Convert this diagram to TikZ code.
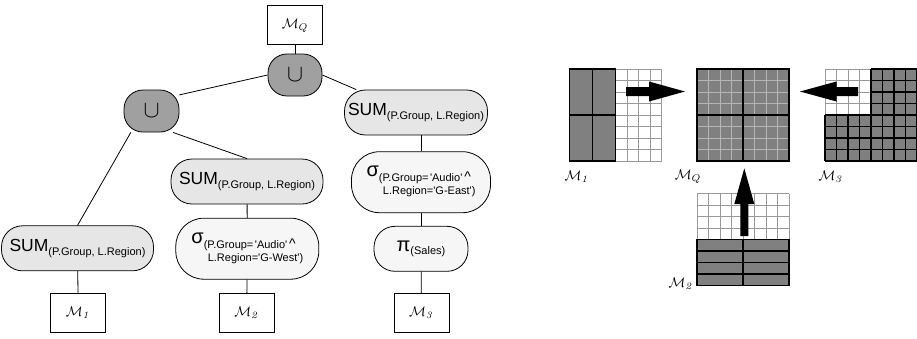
\documentclass[tikz,border=0pt]{standalone}
\usepackage[no-math]{fontspec}
\usepackage{graphicx}
\newfontfamily\arial{Liberation Sans}
\usetikzlibrary{calc}
\definecolor{uniongray}{HTML}{A0A0A0}
\definecolor{sumgray}{HTML}{E6E6E6}
\definecolor{selgray}{HTML}{F6F6F6}
\definecolor{celldark}{HTML}{808080}
\definecolor{cellline}{HTML}{999999}
\definecolor{cellfaint}{HTML}{B4B4B4}
\newcommand{\opbig}[1]{{\fontsize{17.5}{20}\selectfont #1}}
\newcommand{\opgreek}[1]{{\fontsize{20}{20}\selectfont #1}}
\newcommand{\opsub}[1]{{\fontsize{11}{13}\selectfont #1}}
\newcommand{\sumtext}{\opbig{SUM}\raisebox{-3.5pt}{\opsub{(P.Group, L.Region)}}}
\newcommand{\seltext}[1]{\opgreek{σ}\raisebox{-5pt}{\opsub{\begin{tabular}[t]{@{}l@{}}(P.Group=\hspace{1.5pt}'Audio'\hspace{2pt}{\fontsize{14}{13}\selectfont\textasciicircum}\\\hspace{4pt}L.Region='#1')\end{tabular}}}}
\newcommand{\mlab}[1]{\scalebox{1.4}{$\mathcal{M}_{#1}$}}
\newcommand{\unionsym}{\scalebox{2.4}{$\cup$}}
\begin{document}
\begin{tikzpicture}[x=1pt,y=-1pt,
  mbox/.style={draw, line width=0.8pt, fill=white, minimum width=55pt, minimum height=39pt, inner sep=0pt},
  opnode/.style={draw, line width=0.8pt, inner sep=0pt, font=\arial},
  unionnode/.style={opnode, fill=uniongray, rounded corners=19pt, minimum width=54pt, minimum height=42pt},
  sumnode/.style={opnode, fill=sumgray, rounded corners=21pt, minimum width=152pt, minimum height=45pt},
  selnode/.style={opnode, fill=selgray, rounded corners=28pt, minimum width=143pt, minimum height=61pt},
  projnode/.style={opnode, fill=selgray, rounded corners=21pt, minimum width=94pt, minimum height=45pt},
  edge/.style={line width=0.8pt},
  glabel/.style={inner sep=0pt},
  blockarrow/.style={fill=black},
  thinline/.style={cellline, line width=1pt},
  faintline/.style={cellfaint, line width=1pt},
  boldline/.style={black, line width=1.3pt}]
\useasboundingbox (0,0) rectangle (917,338);

% ---------- operator tree ----------
\node[mbox] (mq) at (295,25.3) {\mlab{Q}};
\node[unionnode] (topU) at (295,75) {\unionsym};
\node[unionnode, minimum width=55pt] (leftU) at (151.5,111) {\unionsym};
\node[sumnode, minimum width=143pt] (rSUM) at (416,112.5) {\sumtext};
\node[sumnode] (mSUM) at (247,181.5) {\sumtext};
\node[selnode] (mSel) at (247.3,248.7) {\seltext{G-West}};
\node[mbox] (m2) at (246.7,313) {\mlab{\mathit{2}}};
\node[sumnode] (lSUM) at (77.5,248.3) {\sumtext};
\node[mbox] (m1) at (78.2,313) {\mlab{\mathit{1}}};
\node[selnode, minimum width=139pt] (rSel) at (421,182.2) {\seltext{G-East}};
\node[projnode] (proj) at (421,248.8) {\opgreek{π}\raisebox{-3.5pt}{\opsub{(Sales)}}};
\node[mbox] (m3) at (421.5,313) {\mlab{\mathit{3}}};

\draw[edge] (mq) -- (topU);
\draw[edge] (topU.west) -- (leftU.30);
\draw[edge] (topU.east) -- (rSUM.159);
\draw[edge] (leftU.226) -- (lSUM.north);
\draw[edge] (leftU.-45) -- (mSUM.north);
\draw[edge] (lSUM) -- (m1);
\draw[edge] (mSUM) -- (mSel);
\draw[edge] (mSel) -- (m2);
\draw[edge] (rSel.north) -- (rSel.north |- rSUM.south);
\draw[edge] (rSel) -- (proj);
\draw[edge] (proj) -- (m3);

% ---------- M1 grid ----------
\begin{scope}[shift={(569.5,69)}, x=11.5pt, y=-11.5pt]
  \fill[celldark] (0,0) rectangle (4,8);
  \foreach \i in {4,...,8} \draw[thinline] (\i,0) -- (\i,8);
  \foreach \j in {0,...,8} \draw[thinline] (4,\j) -- (8,\j);
  \draw[boldline] (0,0) rectangle (4,8) (2,0) -- (2,8) (0,4) -- (4,4);
\end{scope}
% ---------- MQ grid ----------
\begin{scope}[shift={(697,69)}, x=11.5pt, y=-11.5pt]
  \fill[celldark] (0,0) rectangle (8,8);
  \foreach \i in {1,...,7} {
    \draw[faintline] (\i,0) -- (\i,8);
    \draw[faintline] (0,\i) -- (8,\i);
  }
  \draw[black, line width=2pt] (0,0) rectangle (8,8) (4,0) -- (4,8) (0,4) -- (8,4);
\end{scope}
% ---------- M3 grid ----------
\begin{scope}[shift={(825,69)}, x=11.5pt, y=-11.5pt]
  \fill[celldark] (4,0) rectangle (8,4) (0,4) rectangle (8,8);
  \foreach \i in {0,...,4} {
    \draw[thinline] (\i,0) -- (\i,4);
    \draw[thinline] (0,\i) -- (4,\i);
  }
  \foreach \i in {4,...,8} \draw[boldline] (\i,0) -- (\i,8);
  \foreach \i in {0,...,3} \draw[boldline] (4,\i) -- (8,\i);
  \foreach \i in {0,...,3} \draw[boldline] (\i,4) -- (\i,8);
  \foreach \j in {4,...,8} \draw[boldline] (0,\j) -- (8,\j);
\end{scope}
% ---------- M2 grid ----------
\begin{scope}[shift={(697,193.5)}, x=11.5pt, y=-11.5pt]
  \foreach \i in {0,...,8} \draw[thinline] (\i,0) -- (\i,4);
  \foreach \j in {0,...,3} \draw[thinline] (0,\j) -- (8,\j);
  \fill[celldark] (0,4) rectangle (8,8);
  \draw[boldline] (0,4) rectangle (8,8) (4,4) -- (4,8) (0,5) -- (8,5) (0,6) -- (8,6) (0,7) -- (8,7);
\end{scope}

% ---------- block arrows ----------
\fill[blockarrow] (626,87) -- (649,87) -- (649,81.5) -- (685,91.5) -- (649,101.5) -- (649,96) -- (626,96) -- cycle;
\fill[blockarrow] (858,87) -- (836.5,87) -- (836.5,81.5) -- (800,91.5) -- (836.5,101.5) -- (836.5,96) -- (858,96) -- cycle;
\fill[blockarrow] (740.3,236) -- (740.3,204) -- (734.3,204) -- (744.3,168.3) -- (754.3,204) -- (748.3,204) -- (748.3,236) -- cycle;

% ---------- grid labels ----------
\node[glabel] (lab1) at (577,177) {\mlab{\mathit{1}}};
\node[glabel] (labq) at (688,177) {\mlab{Q}};
\node[glabel] (lab3) at (831,177) {\mlab{\mathit{3}}};
\node[glabel] (lab2) at (681,284) {\mlab{\mathit{2}}};
\end{tikzpicture}
\end{document}
